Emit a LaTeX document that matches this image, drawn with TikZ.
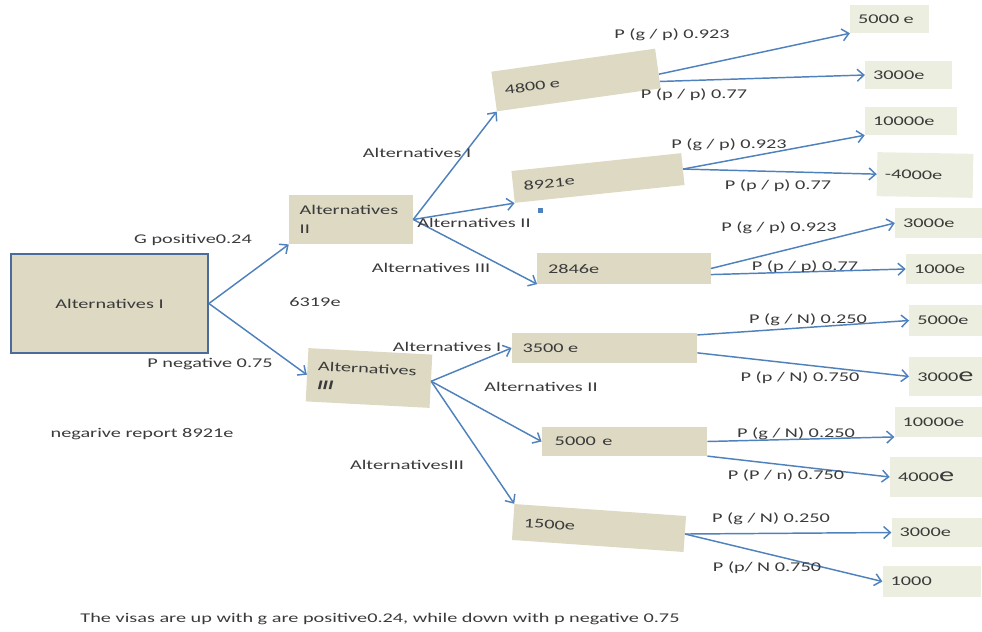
\documentclass[tikz,border=0pt]{standalone}
\usepackage{fontspec}
\setmainfont{Carlito}[FakeStretch=1.52]
\usepackage{xcolor}
\usepackage{tikz}
\usetikzlibrary{arrows.meta}

\definecolor{boxc}{HTML}{DDD9C3}
\definecolor{leafc}{HTML}{ECEEDF}
\definecolor{arrc}{HTML}{4F81BD}
\definecolor{rootc}{HTML}{4A6B9C}
\definecolor{txtc}{HTML}{3A3A3A}

\begin{document}
\begin{tikzpicture}[x=0.75pt,y=-0.75pt,
  every node/.style={text=txtc,font=\fontsize{10}{11}\selectfont},
  box/.style={fill=boxc,align=left,inner xsep=8pt,text width=#1},
  leaf/.style={fill=leafc,align=left,inner xsep=6pt,text width=#1},
  arr/.style={draw=arrc,line width=1.1pt,-{Straight Barb[length=5pt,width=9pt]}}]
\useasboundingbox (0,0) rectangle (982,632);

% root
\node[fill=boxc,draw=rootc,line width=1.1pt,minimum width=148pt,minimum height=74pt] (root) at (109.5,303.5) {Alternatives I};

% second level
\node[box=77pt,minimum height=37pt] (alt2) at (351,219.5) {Alternatives\\[3pt]II};
\node[box=77pt,minimum height=40pt,rotate=-3] (alt3) at (369,378) {Alternatives\\[3pt]\textbf{\textit{III}}};

% third level, upper
\node[box=108pt,minimum height=30pt,rotate=8] (b4800) at (576,80) {4800 e};
\node[box=112pt,minimum height=24pt,rotate=6] (b8921) at (598,178) {8921e};
\node[box=114pt,minimum height=23pt] (b2846) at (624,268.5) {2846e};

% third level, lower
\node[box=123pt,minimum height=23pt] (b3500) at (604.5,348) {3500 e};
\node[box=108pt,minimum height=22pt] (b5000) at (624.5,441.5) {\,5000\, e};
\node[box=113pt,minimum height=27pt,rotate=-4] (b1500) at (599,528) {1500e};

% leaves
\node[leaf=47pt,minimum height=21pt] (l1) at (889.5,19) {5000 e};
\node[leaf=53pt,minimum height=21pt] (l2) at (908.5,75) {3000e};
\node[leaf=57pt,minimum height=21pt] (l3) at (911,121) {10000e};
\node[leaf=60pt,minimum height=33pt,rotate=-1] (l4) at (925,175) {-4000e};
\node[leaf=53pt,minimum height=22pt] (l5) at (938.5,223) {3000e};
\node[leaf=48pt,minimum height=22pt] (l6) at (946,269) {1000e};
\node[leaf=52pt,minimum height=23pt] (l7) at (952,320.5) {5000e};
\node[leaf=52pt,minimum height=29pt] (l8) at (952,376.5) {3000{\fontsize{15}{15}\selectfont e}};
\node[leaf=56pt,minimum height=22pt] (l9) at (940,422) {10000e};
\node[leaf=57pt,minimum height=30pt] (l10) at (936,477) {4000{\fontsize{15}{15}\selectfont e}};
\node[leaf=56pt,minimum height=22pt] (l11) at (937,532.5) {3000e};
\node[leaf=62pt,minimum height=23pt] (l12) at (932,581.5) {1000};

% connectors
\draw[arr] (root.east) -- (alt2.south west);
\draw[arr] (root.east) -- (alt3.west);
\draw[arr] (alt2.east) -- (b4800.south west);
\draw[arr] (alt2.east) -- (b8921.south west);
\draw[arr] (alt2.east) -- (b2846.south west);
\draw[arr] (alt3.east) -- (b3500.west);
\draw[arr] (alt3.east) -- (b5000.west);
\draw[arr] (alt3.east) -- (b1500.north west);
\draw[arr] (b4800.-4) -- (l1.south west);
\draw[arr] (b4800.-9) -- (l2.west);
\draw[arr] (b8921.east) -- (l3.south west);
\draw[arr] (b8921.east) -- (l4.west);
\draw[arr] (b2846.east) -- (l5.west);
\draw[arr] (b2846.-4) -- (l6.west);
\draw[arr] (b3500.8) -- (l7.west);
\draw[arr] (b3500.-3) -- (l8.west);
\draw[arr] (b5000.east) -- (l9.south west);
\draw[arr] (b5000.-10) -- (l10.west);
\draw[arr] (b1500.east) -- (l11.west);
\draw[arr] (b1500.east) -- (l12.west);
\fill[arrc] (537.5,208) rectangle (543,212.5);

% branch labels
\node (lpos) at (193,240) {G positive0.24};
\node (lneg) at (210,364) {P negative 0.75};
\node (lval) at (315,302) {6319e};
\node (lrep) at (142,434) {negarive report 8921e};
\node (la1) at (417,153) {Alternatives I};
\node (la2) at (474,223) {Alternatives II};
\node (la3) at (431,268) {Alternatives III};
\node (lb1) at (447,347) {Alternatives I};
\node (lb2) at (541,387) {Alternatives II};
\node (lb3) at (407,465) {AlternativesIII};

% probabilities
\node (p1) at (672,35) {P (g / p) 0.923};
\node (p2) at (694,95) {P (p / p) 0.77};
\node (p3) at (729,145) {P (g / p) 0.923};
\node (p4) at (778,186) {P (p / p) 0.77};
\node (p5) at (779,228) {P (g / p) 0.923};
\node (p6) at (805,267) {P (p / p) 0.77};
\node (p7) at (808,320) {P (g / N) 0.250};
\node (p8) at (800,378) {P (p / N) 0.750};
\node (p9) at (796,434) {P (g / N) 0.250};
\node (p10) at (786,476) {P (P / n) 0.750};
\node (p11) at (771,519) {P (g / N) 0.250};
\node (p12) at (767,568) {P (p/ N 0.750};

% note
\node (note) at (380,619) {The visas are up with g are positive0.24, while down with p negative 0.75};
\end{tikzpicture}
\end{document}
